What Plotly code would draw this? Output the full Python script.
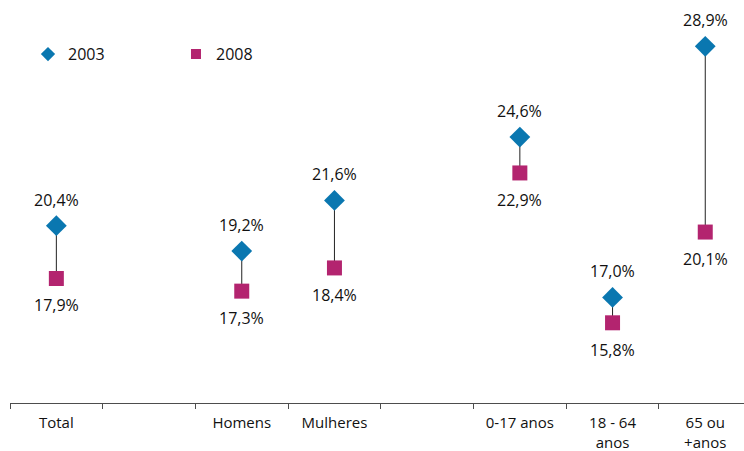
import plotly.graph_objects as go

categories = ["Total", " ", "Homens", "Mulheres", "  ", "0-17 anos", "18 - 64<br>anos", "65 ou<br>+anos"]
v2003 = [20.4, None, 19.2, 21.6, None, 24.6, 17.0, 28.9]
v2008 = [17.9, None, 17.3, 18.4, None, 22.9, 15.8, 20.1]

c2003 = "#0A77B0"
c2008 = "#B3246F"
font = "Open Sans"

def fmt(v):
    return f"{v:.1f}".replace(".", ",") + "%"

fig = go.Figure()

# connecting lines
lx, ly = [], []
for c, a, b in zip(categories, v2003, v2008):
    if a is None:
        continue
    lx += [c, c, None]
    ly += [a, b, None]
fig.add_trace(go.Scatter(x=lx, y=ly, mode="lines", line=dict(color="#222222", width=1),
                         showlegend=False, hoverinfo="skip"))

fig.add_trace(go.Scatter(x=categories, y=v2003, mode="markers", name="2003",
                         marker=dict(symbol="diamond", size=16, color=c2003), showlegend=False))
fig.add_trace(go.Scatter(x=categories, y=v2008, mode="markers", name="2008",
                         marker=dict(symbol="square", size=15, color=c2008), showlegend=False))

# legend-only traces
fig.add_trace(go.Scatter(x=[None], y=[None], mode="markers", name="2003",
                         marker=dict(symbol="diamond", size=11, color=c2003)))
fig.add_trace(go.Scatter(x=[None], y=[None], mode="markers", name="2008",
                         marker=dict(symbol="square", size=10, color=c2008)))

for c, a, b in zip(categories, v2003, v2008):
    if a is None:
        continue
    fig.add_annotation(x=c, y=a, text=fmt(a), showarrow=False, yshift=26,
                       font=dict(family=font, size=16, color="#111111"))
    fig.add_annotation(x=c, y=b, text=fmt(b), showarrow=False, yshift=-27,
                       font=dict(family=font, size=16, color="#111111"))

fig.update_layout(
    width=744, height=451,
    margin=dict(l=10, r=0, t=2, b=48),
    paper_bgcolor="white", plot_bgcolor="white",
    font=dict(family=font, size=15, color="#111111"),
    showlegend=True,
    legend=dict(orientation="h", x=0.0245, y=0.87, xanchor="left", yanchor="middle",
                font=dict(family=font, size=16, color="#111111"),
                entrywidth=103, itemwidth=30, bgcolor="rgba(0,0,0,0)"),
    xaxis=dict(type="category", categoryorder="array", categoryarray=categories,
               range=[-0.5, 7.418], showgrid=False, zeroline=False,
               showline=True, linecolor="#4d4d4d", linewidth=1,
               ticks="outside", tickson="boundaries", ticklen=5, tickcolor="#4d4d4d",
               ticklabelstandoff=6, automargin=False,
               tickfont=dict(family=font, size=15, color="#111111")),
    yaxis=dict(range=[12, 31], visible=False),
)

fig.write_html("out.html")
